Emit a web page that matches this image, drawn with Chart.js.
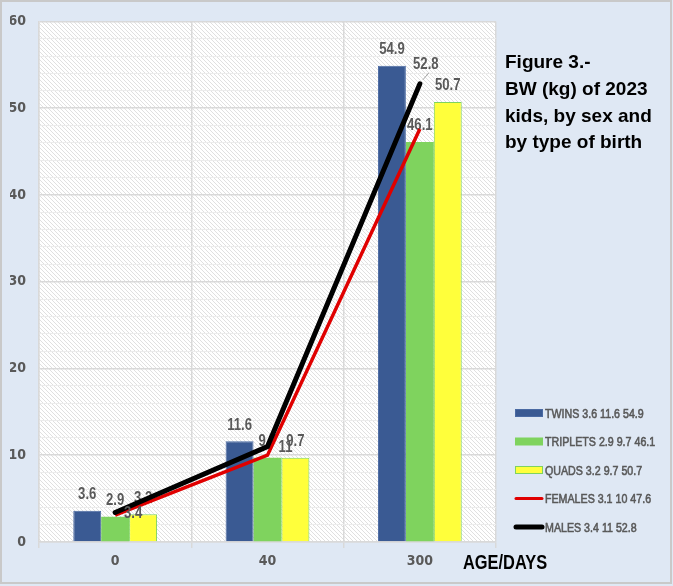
<!DOCTYPE html>
<html>
<head>
<meta charset="utf-8">
<script src="https://cdn.jsdelivr.net/npm/chart.js@4.4.1/dist/chart.umd.min.js"></script>
<style>
  html, body { margin: 0; padding: 0; background: #dfe8f4; }
  #wrap { width: 673px; height: 586px; position: relative; }
</style>
</head>
<body>
<div id="wrap"><canvas id="chart"></canvas></div>
<script>
// chart values
const ages = ['0', '40', '300'];
const twins = [3.6, 11.6, 54.9];
const triplets = [2.9, 9.7, 46.1];
const quads = [3.2, 9.7, 50.7];
const females = [3.1, 10, 47.6];
const males = [3.4, 11, 52.8];
const yTicks = [0, 10, 20, 30, 40, 50, 60];

const COND = '"DejaVu Sans Condensed", "Liberation Sans", sans-serif';
const ARIAL = '"Liberation Sans", Arial, sans-serif';
const GRAY = '#595959';

// text squeezed sideways, to look like the narrow font of the original
function narrowText(ctx, text, x, y, align, thicken) {
  const k = 0.82;
  ctx.save();
  ctx.translate(x, y);
  ctx.scale(k, 1);
  ctx.textAlign = align || 'center';
  ctx.fillText(text, 0, 0);
  if (thicken) {
    ctx.strokeStyle = ctx.fillStyle;
    ctx.lineWidth = thicken;
    ctx.strokeText(text, 0, 0);
  }
  ctx.restore();
}

// diagonal hatch used for the plot background
function makeHatch() {
  const c = document.createElement('canvas');
  c.width = 4; c.height = 4;
  const g = c.getContext('2d');
  g.fillStyle = '#ffffff';
  g.fillRect(0, 0, 4, 4);
  g.strokeStyle = '#e0e0e0';
  g.lineWidth = 1;
  g.beginPath();
  g.moveTo(-1, -1); g.lineTo(5, 5);
  g.moveTo(-1, 3); g.lineTo(1, 5);
  g.moveTo(3, -1); g.lineTo(5, 1);
  g.stroke();
  return c;
}

const backdrop = {
  id: 'backdrop',
  beforeDraw(chart) {
    const {ctx, chartArea: a, width, height} = chart;
    ctx.save();
    ctx.fillStyle = '#dfe8f4';
    ctx.fillRect(0, 0, width, height);
    ctx.strokeStyle = '#c9c9c9';
    ctx.lineWidth = 2;
    ctx.strokeRect(1, 1, width - 3, height - 4);
    ctx.fillStyle = ctx.createPattern(makeHatch(), 'repeat');
    ctx.fillRect(a.left, a.top, a.right - a.left, a.bottom - a.top);
    ctx.restore();
  },
  afterDraw(chart) {
    const {ctx, chartArea: a} = chart;
    ctx.save();
    ctx.fillStyle = '#000000';
    ctx.textBaseline = 'middle';
    ctx.font = 'bold 19px ' + ARIAL;
    const lines = ['Figure 3.-', 'BW (kg) of 2023', 'kids, by sex and', 'by type of birth'];
    ctx.textAlign = 'left';
    lines.forEach((t, i) => ctx.fillText(t, a.right + 9, 63 + i * 26.7));
    ctx.font = 'bold 20px ' + ARIAL;
    narrowText(ctx, 'AGE/DAYS', 463, 563, 'left');

    // legend, bottom right
    ctx.font = '13px ' + ARIAL;
    chart.data.datasets.forEach((ds, i) => {
      const y = 413 + i * 28.5;
      if (ds.type === 'bar') {
        ctx.fillStyle = ds.backgroundColor;
        ctx.fillRect(515, y - 4, 28, 8);
        if (ds.borderWidth) {
          ctx.strokeStyle = ds.borderColor;
          ctx.lineWidth = 1;
          ctx.strokeRect(515.5, y - 3.5, 27, 7);
        }
      } else {
        ctx.strokeStyle = ds.borderColor;
        ctx.lineWidth = ds.borderWidth === 5 ? 5 : 3;
        ctx.lineCap = 'round';
        ctx.beginPath();
        ctx.moveTo(516, y); ctx.lineTo(542, y);
        ctx.stroke();
      }
      ctx.fillStyle = GRAY;
      narrowText(ctx, ds.label, 545, y + 1, 'left', 0.6);
    });
    ctx.restore();
  }
};

// value labels: bars get theirs above the bar, males beside the point
const valueLabels = {
  id: 'valueLabels',
  afterDatasetDraw(chart, args) {
    const ds = chart.data.datasets[args.index];
    if (!ds.showValues) return;
    const {ctx} = chart;
    ctx.save();
    ctx.fillStyle = GRAY;
    ctx.font = 'bold 16px ' + ARIAL;
    ctx.textBaseline = 'middle';
    args.meta.data.forEach((el, i) => {
      const v = String(ds.data[i]);
      if (ds.type === 'bar') {
        narrowText(ctx, v, el.x, el.y - 16);
      } else if (i < 2) {
        narrowText(ctx, v, el.x + 18, el.y + 1);
      } else {
        ctx.strokeStyle = '#a6a6a6';
        ctx.lineWidth = 1;
        ctx.beginPath();
        ctx.moveTo(el.x + 3, el.y - 4);
        ctx.lineTo(el.x + 9, el.y - 11);
        ctx.stroke();
        narrowText(ctx, v, el.x + 6, el.y - 19);
      }
    });
    ctx.restore();
  }
};

new Chart(document.getElementById('chart'), {
  data: {
    labels: ages,
    datasets: [
      {type: 'bar', label: 'TWINS 3.6 11.6 54.9', data: twins, backgroundColor: '#3a5a93', borderColor: '#4a6aa3', borderWidth: 1, order: 3, showValues: true},
      {type: 'bar', label: 'TRIPLETS 2.9 9.7 46.1', data: triplets, backgroundColor: '#7fd35e', borderWidth: 0, order: 3, showValues: true},
      {type: 'bar', label: 'QUADS 3.2 9.7 50.7', data: quads, backgroundColor: '#ffff3b', borderColor: '#7fd35e', borderWidth: 1, order: 3, showValues: true},
      {type: 'line', label: 'FEMALES 3.1 10 47.6', data: females, borderColor: '#e00000', backgroundColor: '#e00000', borderWidth: 3.5, pointRadius: 0, order: 1},
      {type: 'line', label: 'MALES 3.4 11 52.8', data: males, borderColor: '#000000', backgroundColor: '#000000', borderWidth: 5, pointRadius: 0, borderCapStyle: 'round', order: 0, showValues: true}
    ]
  },
  options: {
    responsive: true,
    maintainAspectRatio: false,
    animation: false,
    datasets: {bar: {barPercentage: 1, categoryPercentage: 0.55}},
    layout: {padding: {top: 20, left: 10, right: 177, bottom: 14}},
    scales: {
      x: {
        offset: true,
        afterFit(axis) { axis.height = 30; },
        grid: {offset: true, color: '#d9d9d9', lineWidth: 1.5, tickLength: 6},
        border: {color: '#d9d9d9', width: 1.5},
        ticks: {color: GRAY, padding: 5, font: {family: COND, size: 14, weight: 'bold'}}
      },
      y: {
        min: 0,
        max: 60,
        afterFit(axis) { axis.width = 29; },
        afterBuildTicks(axis) {
          const t = [];
          for (let v = 0; v <= 60; v += 2) t.push({value: v});
          axis.ticks = t;
        },
        grid: {
          drawTicks: false,
          color: c => (yTicks.includes(c.tick.value) ? '#d9d9d9' : '#ececec'),
          lineWidth: c => (yTicks.includes(c.tick.value) ? 1.5 : 1)
        },
        border: {color: '#d9d9d9', width: 1.5},
        ticks: {
          autoSkip: false,
          color: GRAY,
          padding: 13,
          font: {family: COND, size: 14, weight: 'bold'},
          callback: v => (yTicks.includes(v) ? String(v) : '')
        }
      }
    },
    plugins: {
      tooltip: {enabled: false},
      legend: {display: false}
    }
  },
  plugins: [backdrop, valueLabels]
});
</script>
</body>
</html>
